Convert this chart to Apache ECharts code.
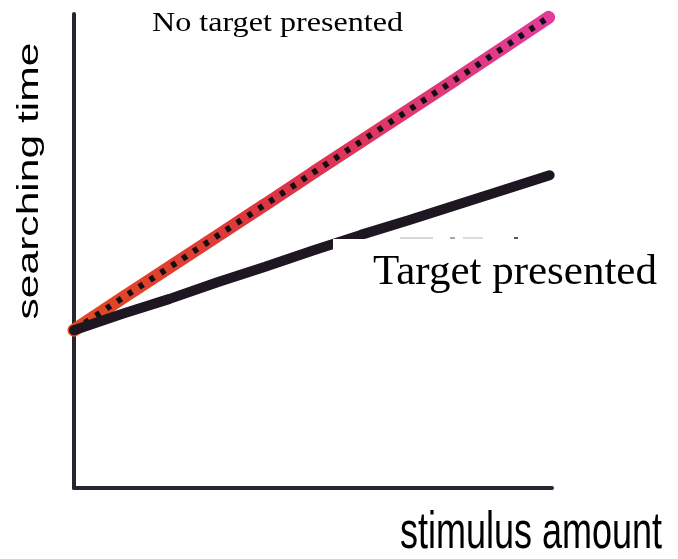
<!DOCTYPE html>
<html>
<head>
<meta charset="utf-8">
<script src="https://cdn.jsdelivr.net/npm/echarts@6/dist/echarts.min.js"></script>
<style>
html,body{margin:0;padding:0;background:#fff;}
#c{width:678px;height:559px;}
</style>
</head>
<body>
<div id="c"></div>
<script>
// stimulus amount (arbitrary units, no ticks shown)
var stimulus = [0, 1, 2, 3, 4, 5, 6, 7, 8, 9, 9.93];
var stimulusTarget = [0, 1, 2, 3, 4, 5, 6, 7, 8, 9, 9.95];
// searching time, no target presented
var noTargetTime = [33.3, 40.0, 46.6, 53.2, 59.8, 66.5, 73.1, 79.7, 86.3, 93.0, 99.3];
// searching time, target presented
var targetTime = [33.3, 36.7, 39.9, 43.4, 46.7, 50.1, 53.4, 56.5, 59.7, 62.9, 66.0];

var xLabel = 'stimulus amount';
var yLabel = 'searching time';
var noTargetLabel = 'No target presented';
var targetLabel = 'Target presented';

function pairs(xs, ys){ return xs.map(function(x,i){ return [x, ys[i]]; }); }

var chart = echarts.init(document.getElementById('c'), null, {renderer:'canvas'});
var axisColor = '#2a2430';
chart.setOption({
  animation:false,
  backgroundColor:'#ffffff',
  grid:{left:74, right:126, top:14, bottom:71},
  xAxis:{type:'value', min:0, max:10,
    axisLine:{show:true, onZero:false, lineStyle:{color:axisColor, width:4}},
    axisTick:{show:false}, axisLabel:{show:false}, splitLine:{show:false}},
  yAxis:{type:'value', min:0, max:100,
    axisLine:{show:true, onZero:false, lineStyle:{color:axisColor, width:4}},
    axisTick:{show:false}, axisLabel:{show:false}, splitLine:{show:false}},
  series:[
    {type:'line', name:noTargetLabel, data:pairs(stimulus, noTargetTime), symbol:'none', clip:false, z:2,
     lineStyle:{width:13, cap:'round',
       color:new echarts.graphic.LinearGradient(0,0,1,0,[
         {offset:0, color:'#e24a1e'},
         {offset:0.45, color:'#dd3346'},
         {offset:1, color:'#e23c9e'}])}},
    {type:'line', name:noTargetLabel+' dots', data:pairs(stimulus, noTargetTime), symbol:'none', clip:false, z:3,
     lineStyle:{width:6, color:'#121012', type:[5,8]}},
    {type:'line', name:targetLabel, data:pairs(stimulusTarget, targetTime), symbol:'none', clip:false, z:4,
     lineStyle:{width:10, color:'#1e1620', cap:'round'}}
  ],
  graphic:[
    {type:'rect', z:100, shape:{x:333, y:239, width:240, height:24}, style:{fill:'#ffffff'}},
    {type:'rect', z:101, shape:{x:400, y:237, width:33, height:2}, style:{fill:'#d8d8d8'}},
    {type:'rect', z:101, shape:{x:450, y:237, width:5, height:2}, style:{fill:'#a8a8a8'}},
    {type:'rect', z:101, shape:{x:463, y:237, width:20, height:2}, style:{fill:'#dcdcdc'}},
    {type:'rect', z:101, shape:{x:514, y:237, width:4, height:2}, style:{fill:'#555'}},
    {type:'text', z:101, x:152, y:24, scaleX:1.19,
     style:{text:noTargetLabel, font:'27px "Liberation Serif", "Times New Roman", serif', fill:'#000', textAlign:'left', textVerticalAlign:'middle'}},
    {type:'text', z:101, x:373, y:273,
     style:{text:targetLabel, font:'43px "Liberation Serif", "Times New Roman", serif', fill:'#000', textAlign:'left', textVerticalAlign:'middle'}},
    {type:'text', z:101, x:30, y:181, rotation:Math.PI/2, scaleX:1.42,
     style:{text:yLabel, font:'30px "Liberation Sans", Arial, sans-serif', fill:'#000', textAlign:'center', textVerticalAlign:'middle'}},
    {type:'text', z:101, x:531, y:534, scaleY:1.45,
     style:{text:xLabel, font:'36px "Liberation Sans", Arial, sans-serif', fill:'#000', textAlign:'center', textVerticalAlign:'middle'}}
  ]
});
</script>
</body>
</html>
